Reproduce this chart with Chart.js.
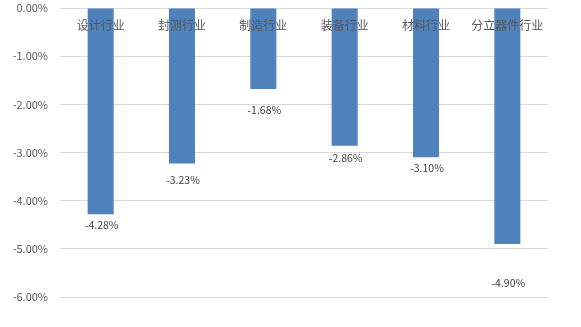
<!DOCTYPE html>
<html>
<head>
<meta charset="utf-8">
<script src="https://cdn.jsdelivr.net/npm/chart.js@4/dist/chart.umd.min.js"></script>
<style>
  html, body { margin: 0; padding: 0; background: #fff; }
  #wrap { width: 581px; height: 327px; }
</style>
</head>
<body>
<div id="wrap"><canvas id="barChart"></canvas></div>
<script>
  // categories and values (percent)
  const categories = ["设计行业", "封测行业", "制造行业", "装备行业", "材料行业", "分立器件行业"];
  const changes = [-4.28, -3.23, -1.68, -2.86, -3.10, -4.90];
  const yTicks = [0, -1, -2, -3, -4, -5, -6];

  // extra pixel gap below each bar end for its value label
  const labelGap = [11, 16, 21, 12, 11, 39];

  const FONT = "'Microsoft YaHei', 'Noto Sans CJK SC', 'DejaVu Sans', sans-serif";

  // draws category names inside the plot under the 0 line, and the values under each bar
  const barLabels = {
    id: "barLabels",
    afterDatasetsDraw(chart) {
      const ctx = chart.ctx;
      const meta = chart.getDatasetMeta(0);
      const yZero = chart.scales.y.getPixelForValue(0);
      ctx.save();
      ctx.textAlign = "center";
      ctx.textBaseline = "middle";
      meta.data.forEach(function (bar, i) {
        ctx.fillStyle = "#595959";
        ctx.font = "12px " + FONT;
        ctx.fillText(categories[i], bar.x, yZero + 17);
        ctx.fillStyle = "#404040";
        ctx.font = "10.5px " + FONT;
        ctx.fillText(changes[i].toFixed(2) + "%", bar.x + 1, bar.y + labelGap[i]);
      });
      ctx.restore();
    },
  };

  const ctx = document.getElementById("barChart").getContext("2d");
  const chart = new Chart(ctx, {
    type: "bar",
    data: {
      labels: categories,
      datasets: [
        {
          data: changes,
          backgroundColor: "#4f81bd",
          barPercentage: 0.32,
          categoryPercentage: 1,
        },
      ],
    },
    options: {
      responsive: false,
      animation: false,
      maintainAspectRatio: false,
      layout: { padding: { top: 8, right: 33, bottom: 30, left: 0 } },
      plugins: {
        legend: { display: false },
        tooltip: { enabled: false },
      },
      scales: {
        x: { display: false },
        y: {
          min: -6,
          max: 0,
          afterBuildTicks: function (scale) {
            scale.ticks = yTicks.map(function (v) { return { value: v }; });
          },
          afterFit: function (scale) {
            scale.width = 60;
            scale.paddingTop = 0;
            scale.paddingBottom = 0;
          },
          border: { display: false },
          grid: { color: "#d9d9d9", drawTicks: false, lineWidth: 1 },
          ticks: {
            padding: 12,
            color: "#595959",
            font: { size: 11, family: FONT },
            callback: function (v) { return v.toFixed(2) + "%"; },
          },
        },
      },
    },
    plugins: [barLabels],
  });
  chart.resize(581, 327);
</script>
</body>
</html>
